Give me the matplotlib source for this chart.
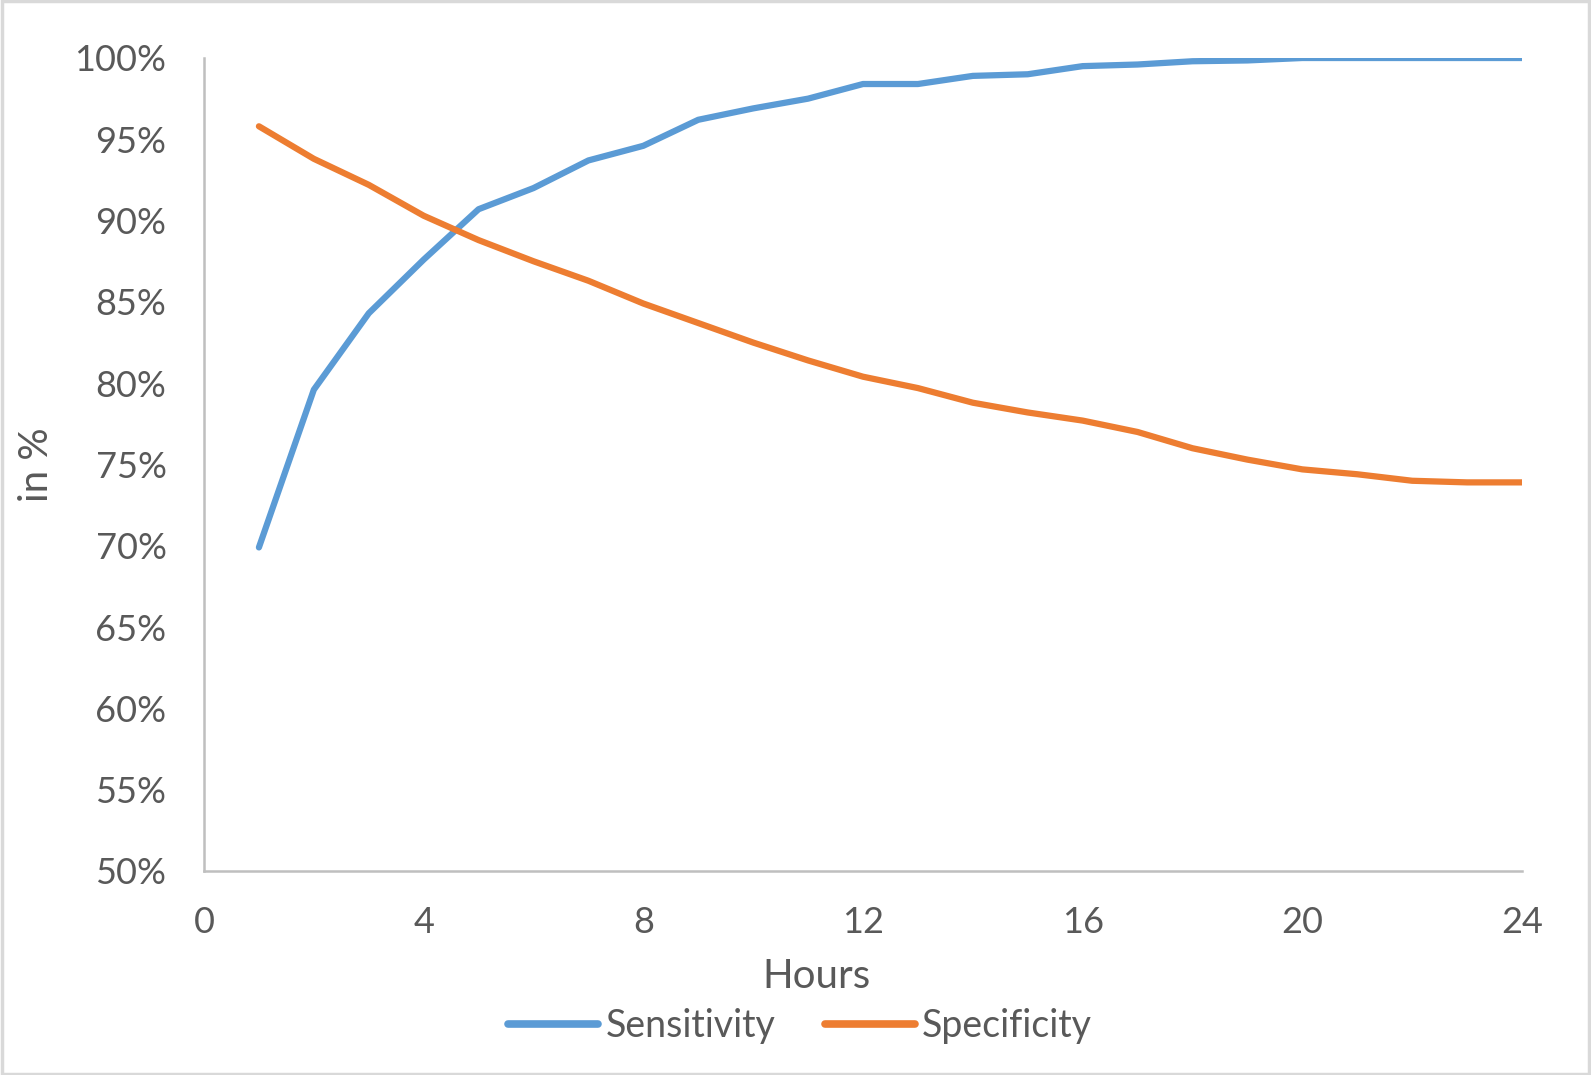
import matplotlib
matplotlib.use("Agg")
import matplotlib.pyplot as plt
from matplotlib.ticker import FuncFormatter, MultipleLocator
from matplotlib.patches import Rectangle

hours = list(range(1, 25))
sensitivity = [69.9, 79.6, 84.3, 87.6, 90.7, 92.0, 93.7, 94.6, 96.2, 96.9, 97.5, 98.4,
               98.4, 98.9, 99.0, 99.5, 99.6, 99.8, 99.85, 100.0, 100.0, 100.0, 100.0, 100.0]
specificity = [95.8, 93.8, 92.2, 90.3, 88.8, 87.5, 86.3, 84.9, 83.7, 82.5, 81.4, 80.4,
               79.7, 78.8, 78.2, 77.7, 77.0, 76.0, 75.3, 74.7, 74.4, 74.0, 73.9, 73.9]
series_names = ["Sensitivity", "Specificity"]
colors = ["#5B9BD5", "#ED7D31"]
x_ticks = [0, 4, 8, 12, 16, 20, 24]

plt.rcParams['font.family'] = ['Lato', 'DejaVu Sans']
txt = "#595959"

W, H = 1591, 1075
fig = plt.figure(figsize=(W/100, H/100), dpi=100)
fig.patches.append(Rectangle((0.001, 0.001), 0.998, 0.998, transform=fig.transFigure,
                             fill=False, edgecolor="#D9D9D9", linewidth=2.5))
left, right, top, bottom = 204, 1522, 58, 871
ax = fig.add_axes([left/W, 1 - bottom/H, (right-left)/W, (bottom-top)/H])

ax.plot(hours, sensitivity, color=colors[0], lw=4.5, label=series_names[0], solid_capstyle='round')
ax.plot(hours, specificity, color=colors[1], lw=4.5, label=series_names[1], solid_capstyle='round')

ax.set_xlim(0, 24)
ax.set_ylim(50, 100)
ax.set_xticks(x_ticks)
ax.yaxis.set_major_locator(MultipleLocator(5))
ax.yaxis.set_major_formatter(FuncFormatter(lambda v, p: f"{v:.0f}%"))
for s in ["top", "right"]:
    ax.spines[s].set_visible(False)
for s in ["left", "bottom"]:
    ax.spines[s].set_color("#BFBFBF")
    ax.spines[s].set_linewidth(1.8)
ax.tick_params(axis='both', length=0, labelsize=26, colors=txt)
ax.tick_params(axis='x', pad=25)
ax.tick_params(axis='y', pad=27)

ax.set_xlabel("Hours", fontsize=29, color=txt, labelpad=14)
ax.xaxis.label.set_x((817 - left) / (right - left))
ax.set_ylabel("in %", fontsize=29, color=txt, labelpad=14)

leg = fig.legend(loc='center', bbox_to_anchor=(0.503, 1 - 1026/H), ncol=2, frameon=False,
                 fontsize=27, handlelength=2.4, columnspacing=1.3, handletextpad=0.2)
for t in leg.get_texts():
    t.set_color(txt)
for l in leg.get_lines():
    l.set_linewidth(5.5)

fig.savefig("out.png", dpi=100)
